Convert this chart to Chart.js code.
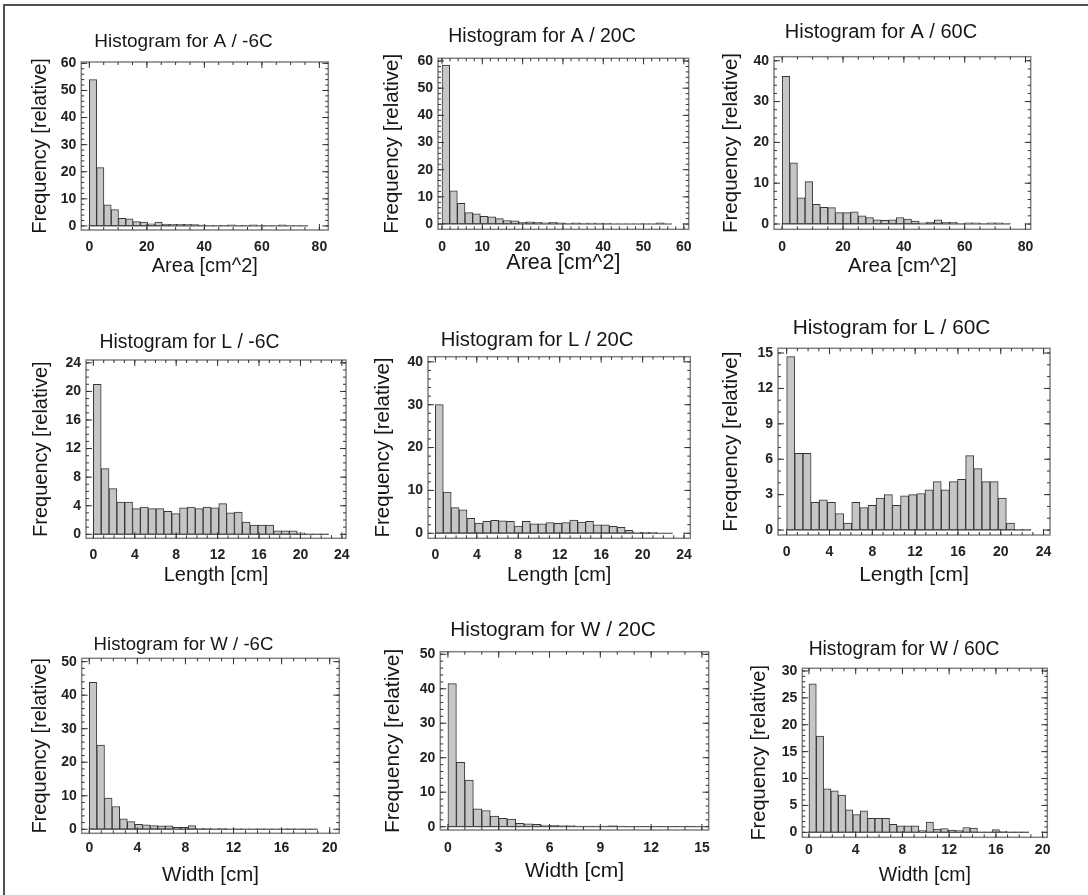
<!DOCTYPE html>
<html>
<head>
<meta charset="utf-8">
<title>Histograms</title>
<script src="https://cdn.jsdelivr.net/npm/chart.js@4.4.1/dist/chart.umd.min.js"></script>
<style>
  html, body { margin: 0; padding: 0; background: #fff; }
  #page { position: relative; width: 1088px; height: 895px; overflow: hidden; background: #fff; }
  #frame { position: absolute; left: 3px; top: 4px; width: 1100px; height: 900px;
           border-left: 2px solid #505050; border-top: 2px solid #505050; }
  canvas { position: absolute; }
</style>
</head>
<body>
<div id="page"><div id="frame"></div></div>
<script>
const FONT = "'Liberation Sans', Arial, Helvetica, sans-serif";
Chart.defaults.font.family = FONT;
Chart.defaults.color = '#1b1b1b';

const panelTitles = [
  'Histogram for A / -6C', 'Histogram for A / 20C', 'Histogram for A / 60C',
  'Histogram for L / -6C', 'Histogram for L / 20C', 'Histogram for L / 60C',
  'Histogram for W / -6C', 'Histogram for W / 20C', 'Histogram for W / 60C'
];
const xLabels = [
  'Area [cm^2]', 'Area [cm^2]', 'Area [cm^2]',
  'Length [cm]', 'Length [cm]', 'Length [cm]',
  'Width [cm]', 'Width [cm]', 'Width [cm]'
];
const yLabel = 'Frequency [relative]';

// relative frequency per bin, 30 bins each, bins start at 0
const areaM6 = [54, 21.5, 7.8, 6.0, 2.8, 2.6, 1.6, 1.4, 0.8, 1.4, 0.7, 0.6, 0.6, 0.6, 0.5,
                0.3, 0.2, 0.2, 0.2, 0.4, 0.2, 0.2, 0.4, 0.1, 0.1, 0.1, 0.4, 0.1, 0.1, 0.1];
const areaP20 = [58.5, 12.2, 7.6, 4.2, 3.7, 2.8, 2.6, 2.0, 1.3, 1.2, 0.6, 0.8, 0.6, 0.4, 0.6,
                 0.4, 0.3, 0.4, 0.3, 0.3, 0.3, 0.3, 0.1, 0.1, 0.1, 0.1, 0.1, 0.1, 0.4, 0.1];
const areaP60 = [36.2, 15, 6.4, 10.4, 4.8, 4.1, 4.0, 2.8, 2.8, 3.0, 2.0, 1.6, 1.0, 0.9, 1.0,
                 1.6, 1.2, 0.7, 0.3, 0.5, 1.0, 0.4, 0.4, 0.1, 0.3, 0.3, 0.1, 0.3, 0.3, 0.1];
const lenM6 = [21, 9.2, 6.4, 4.5, 4.5, 3.6, 3.8, 3.6, 3.6, 3.2, 2.9, 3.7, 3.8, 3.6, 3.8,
               3.7, 4.3, 3.0, 3.1, 1.7, 1.3, 1.3, 1.3, 0.5, 0.5, 0.5, 0.2, 0.05, 0.05, 0.05];
const lenP20 = [30, 9.6, 6.0, 5.5, 3.5, 2.4, 2.8, 3.0, 2.9, 2.8, 1.7, 2.8, 2.2, 2.2, 2.5,
                2.3, 2.5, 3.1, 2.6, 2.8, 2.0, 2.0, 1.6, 1.4, 0.7, 0.3, 0.2, 0.2, 0.05, 0.05];
const lenP60 = [14.7, 6.5, 6.5, 2.35, 2.55, 2.35, 1.4, 0.6, 2.35, 1.9, 2.1, 2.7, 3.0, 2.1, 2.9,
                3.0, 3.1, 3.4, 4.1, 3.4, 4.1, 4.3, 6.3, 5.2, 4.1, 4.1, 2.7, 0.6, 0.05, 0.05];
const widM6 = [43.8, 25.1, 9.3, 6.8, 3.1, 2.3, 1.5, 1.3, 1.1, 1.0, 1.0, 0.6, 0.6, 1.1, 0.3,
               0.3, 0.2, 0.3, 0.1, 0.2, 0.1, 0.1, 0.2, 0.1, 0.1, 0.1, 0.2, 0.1, 0.1, 0.1];
const widP20 = [41.5, 18.7, 13.5, 5.2, 4.7, 3.1, 2.4, 2.2, 1.0, 0.8, 0.7, 0.5, 0.4, 0.3, 0.3,
                0.2, 0.2, 0.2, 0.2, 0.3, 0.2, 0.1, 0.1, 0.1, 0.1, 0.1, 0.1, 0.1, 0.2, 0.1];
const widP60 = [27.6, 17.9, 8.1, 7.7, 6.9, 4.2, 3.3, 4.0, 2.6, 2.6, 2.6, 1.5, 1.2, 1.2, 1.2,
                0.3, 1.9, 0.6, 0.7, 0.4, 0.3, 0.9, 0.8, 0.1, 0.1, 0.5, 0.2, 0.1, 0.1, 0.1];

const binWidths = [2.533, 1.9, 2.5, 0.757, 0.763, 0.76, 0.633, 0.5, 0.627];

// tick labels
const xTicksArea80 = [0, 20, 40, 60, 80];
const xTicksArea60 = [0, 10, 20, 30, 40, 50, 60];
const xTicksLength = [0, 4, 8, 12, 16, 20, 24];
const xTicksWidth20 = [0, 4, 8, 12, 16, 20];
const xTicksWidth15 = [0, 3, 6, 9, 12, 15];
const yTicks60 = [0, 10, 20, 30, 40, 50, 60];
const yTicks50 = [0, 10, 20, 30, 40, 50];
const yTicks40 = [0, 10, 20, 30, 40];
const yTicks30 = [0, 5, 10, 15, 20, 25, 30];
const yTicks24 = [0, 4, 8, 12, 16, 20, 24];
const yTicks15 = [0, 3, 6, 9, 12, 15];

const freqs = [areaM6, areaP20, areaP60, lenM6, lenP20, lenP60, widM6, widP20, widP60];
const xTickSets = [xTicksArea80, xTicksArea60, xTicksArea80, xTicksLength, xTicksLength,
                   xTicksLength, xTicksWidth20, xTicksWidth15, xTicksWidth20];
const yTickSets = [yTicks60, yTicks60, yTicks40, yTicks24, yTicks40, yTicks15, yTicks50, yTicks50, yTicks30];
const xMinor = [5, 2, 5, 1, 1, 1, 1, 1, 1];
const yMinor = [2, 2, 2, 1, 2, 1, 2, 2, 1];

// page layout: plot box [l,t,r,b], axis ranges, title [cx,cy,size], y label [cx,size], x label [cy,size], tick label gap
const layout = [
  {plot: [81.3, 62, 328.3, 230], xr: [-2.8, 83.1], yr: [-1.5, 60.5], title: [183.8, 41.5, 19], yLab: [40, 20], xLab: [266.7, 20], gap: 16.7},
  {plot: [438, 58.3, 688.7, 229.3], xr: [-1.0, 61.2], yr: [-1.95, 61], title: [541.7, 37, 19.5], yLab: [392.7, 20.5], xLab: [263.3, 21.5], gap: 17.4},
  {plot: [774, 56.7, 1030.7, 229.3], xr: [-2.7, 81.7], yr: [-1.3, 41], title: [881, 32, 20], yLab: [731, 20.5], xLab: [266.7, 20.5], gap: 17.4},
  {plot: [86, 360, 346, 538.3], xr: [-0.71, 24.4], yr: [-0.56, 24.4], title: [189.3, 343, 19.4], yLab: [41, 20], xLab: [575, 20], gap: 16.7},
  {plot: [428, 356.7, 690.3, 538.3], xr: [-0.71, 24.6], yr: [-1.17, 41.2], title: [537, 340, 20.3], yLab: [383.7, 20.5], xLab: [575, 20], gap: 16.7},
  {plot: [778, 348.3, 1050, 535], xr: [-0.81, 24.6], yr: [-0.42, 15.4], title: [891.3, 328, 20.8], yLab: [731, 20.5], xLab: [575, 21], gap: 16.7},
  {plot: [81.7, 658.3, 339.3, 833.3], xr: [-0.63, 20.8], yr: [-1.2, 51], title: [183.7, 645, 18.6], yLab: [40, 20], xLab: [875, 20.5], gap: 15},
  {plot: [440.3, 651.7, 708.7, 830], xr: [-0.45, 15.4], yr: [-0.96, 50.75], title: [553, 630, 20.8], yLab: [393.7, 21], xLab: [871.7, 21], gap: 18.3},
  {plot: [802.3, 668.3, 1047.3, 837.3], xr: [-0.57, 20.4], yr: [-0.93, 30.5], title: [904, 650, 19.3], yLab: [759.7, 20], xLab: [876, 19.5], gap: 12.7}
];

function stepValues(min, max, step) {
  const out = [];
  for (let v = Math.ceil(min / step) * step; v <= max + 1e-9; v += step) out.push(+v.toFixed(6));
  return out;
}

function makePanel(i) {
  const L = layout[i];
  const [l, t, r, b] = L.plot;
  const values = freqs[i];
  const w = binWidths[i];
  const tLine = L.title[2] * 1.2, yLine = L.yLab[1] * 1.2, xLine = L.xLab[1] * 1.2;

  // canvas is centred on the title so Chart.js' own title lands in place
  const hw = Math.max(L.title[0] - (L.yLab[0] - yLine / 2 - 1), r + 18 - L.title[0]);
  const cl = Math.round(L.title[0] - hw), cr = Math.round(L.title[0] + hw);
  const ct = Math.floor(L.title[1] - tLine / 2 - 2);
  const cb = Math.ceil(L.xLab[0] + xLine / 2 + 2);

  const canvas = document.createElement('canvas');
  canvas.width = cr - cl;
  canvas.height = cb - ct;
  canvas.style.left = cl + 'px';
  canvas.style.top = ct + 'px';
  document.getElementById('page').appendChild(canvas);

  const tPadTop = L.title[1] - tLine / 2 - ct;
  const tPadBottom = (t - ct) - tLine - tPadTop;
  const tickFont = {family: FONT, size: 14, weight: 'bold'};

  const framePlugin = {
    id: 'frame',
    afterDraw(chart) {
      const {ctx, chartArea: a} = chart;
      const xs = chart.scales.x, ys = chart.scales.y;
      ctx.save();
      // bottom outline of the bins
      const y0 = ys.getPixelForValue(0);
      ctx.strokeStyle = '#4a4a4a';
      ctx.lineWidth = 1;
      ctx.beginPath();
      ctx.moveTo(xs.getPixelForValue(0), y0);
      ctx.lineTo(xs.getPixelForValue(w * values.length), y0);
      ctx.stroke();
      // plot box
      ctx.strokeStyle = '#808080';
      ctx.lineWidth = 1.5;
      ctx.strokeRect(a.left, a.top, a.width, a.height);
      // inward ticks on all four sides
      ctx.strokeStyle = '#333';
      ctx.lineWidth = 1;
      ctx.beginPath();
      const xt = (vals, len) => vals.forEach(v => {
        const px = xs.getPixelForValue(v);
        if (px < a.left || px > a.right) return;
        ctx.moveTo(px, a.bottom); ctx.lineTo(px, a.bottom - len);
        ctx.moveTo(px, a.top); ctx.lineTo(px, a.top + len);
      });
      const yt = (vals, len) => vals.forEach(v => {
        const py = ys.getPixelForValue(v);
        if (py < a.top || py > a.bottom) return;
        ctx.moveTo(a.left, py); ctx.lineTo(a.left + len, py);
        ctx.moveTo(a.right, py); ctx.lineTo(a.right - len, py);
      });
      xt(stepValues(L.xr[0], L.xr[1], xMinor[i]), 3);
      yt(stepValues(L.yr[0], L.yr[1], yMinor[i]), 3);
      xt(xTickSets[i], 6);
      yt(yTickSets[i], 6);
      ctx.stroke();
      ctx.restore();
    }
  };

  new Chart(canvas, {
    type: 'bar',
    data: {
      datasets: [{
        data: values.map((v, k) => ({x: (k + 0.5) * w, y: v})),
        backgroundColor: '#c6c6c6',
        borderColor: '#353535',
        borderWidth: 1,
        borderSkipped: false,
        barPercentage: 1,
        categoryPercentage: 1
      }]
    },
    options: {
      responsive: false,
      animation: false,
      events: [],
      layout: {padding: 0},
      plugins: {
        legend: {display: false},
        tooltip: {enabled: false},
        title: {
          display: true,
          text: panelTitles[i],
          color: '#161616',
          font: {family: FONT, size: L.title[2], weight: 'normal', lineHeight: 1.2},
          padding: {top: tPadTop, bottom: tPadBottom}
        }
      },
      scales: {
        x: {
          type: 'linear',
          min: L.xr[0],
          max: L.xr[1],
          offset: false,
          grid: {display: false, drawTicks: false},
          border: {display: false},
          ticks: {font: tickFont, color: '#222', padding: L.gap - 8.4, maxRotation: 0, autoSkip: false},
          afterBuildTicks: s => { s.ticks = xTickSets[i].map(v => ({value: v})); },
          title: {
            display: true,
            text: xLabels[i],
            color: '#161616',
            font: {family: FONT, size: L.xLab[1], weight: 'normal', lineHeight: 1.2},
            padding: {top: 0, bottom: cb - L.xLab[0] - xLine / 2}
          },
          afterFit: s => { s.height = cb - b; s.paddingLeft = 0; s.paddingRight = 0; }
        },
        y: {
          type: 'linear',
          position: 'left',
          min: L.yr[0],
          max: L.yr[1],
          grid: {display: false, drawTicks: false},
          border: {display: false},
          ticks: {font: tickFont, color: '#222', padding: 5, autoSkip: false},
          afterBuildTicks: s => { s.ticks = yTickSets[i].map(v => ({value: v})); },
          title: {
            display: true,
            text: yLabel,
            color: '#161616',
            font: {family: FONT, size: L.yLab[1], weight: 'normal', lineHeight: 1.2},
            padding: {top: L.yLab[0] - cl - yLine / 2, bottom: 0}
          },
          afterFit: s => { s.width = l - cl; s.paddingTop = 0; s.paddingBottom = 0; }
        },
        y2: {
          type: 'linear',
          position: 'right',
          grid: {display: false, drawTicks: false},
          border: {display: false},
          ticks: {display: false},
          afterFit: s => { s.width = cr - r; s.paddingTop = 0; s.paddingBottom = 0; }
        }
      }
    },
    plugins: [framePlugin]
  });
}

for (let i = 0; i < layout.length; i++) makePanel(i);
</script>
</body>
</html>
